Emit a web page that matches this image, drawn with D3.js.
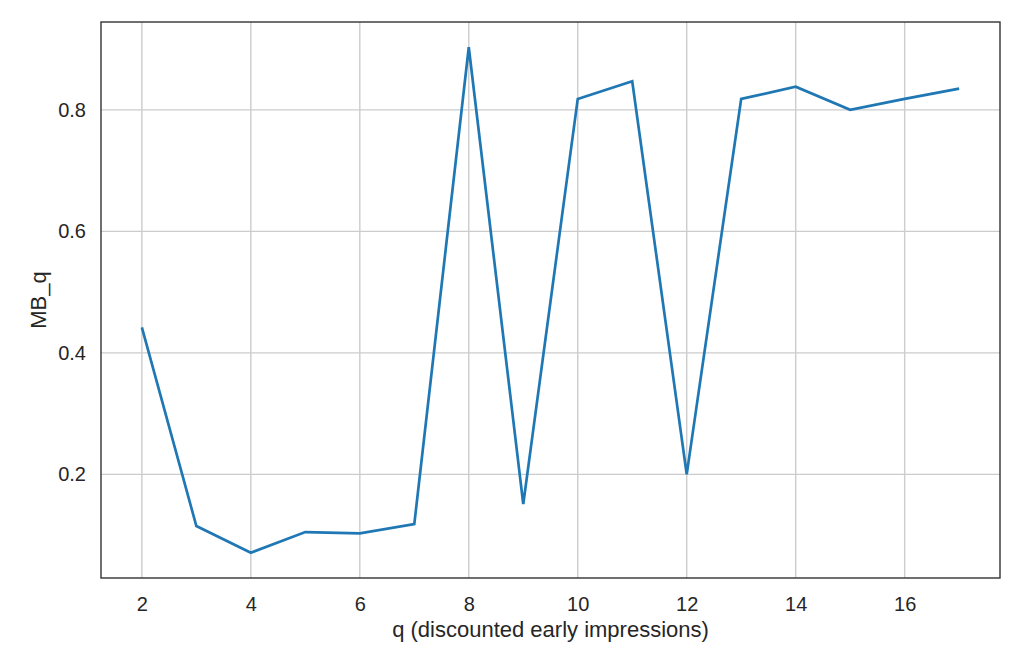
<!DOCTYPE html>
<html><head><meta charset="utf-8">
<script src="https://cdn.jsdelivr.net/npm/d3@7"></script>
<style>body{margin:0;background:#fff;} svg{display:block;font-family:"Liberation Sans",Arial,sans-serif;}</style>
</head><body>
<svg id="c" width="1024" height="672"></svg>
<script>
const qValues = [2,3,4,5,6,7,8,9,10,11,12,13,14,15,16,17];
const mbValues = [0.442,0.115,0.071,0.105,0.103,0.118,0.903,0.151,0.818,0.847,0.200,0.818,0.838,0.800,0.818,0.835];
const xTicks = [2,4,6,8,10,12,14,16];
const yTicks = [0.2,0.4,0.6,0.8];
const xLabel = "q (discounted early impressions)";
const yLabel = "MB_q";

const svg = d3.select("#c");
const L=101,R=1000,T=22,B=578;
const x = d3.scaleLinear().domain([1.25,17.75]).range([L,R]);
const yMin=d3.min(mbValues), yMax=d3.max(mbValues), pad=(yMax-yMin)*0.05;
const y = d3.scaleLinear().domain([yMin-pad,yMax+pad]).range([B,T]);

const g = svg.append("g");
g.selectAll("line.gx").data(xTicks).enter().append("line")
  .attr("x1",d=>x(d)).attr("x2",d=>x(d)).attr("y1",T).attr("y2",B)
  .attr("stroke","#cccccc").attr("stroke-width",1.4);
g.selectAll("line.gy").data(yTicks).enter().append("line")
  .attr("y1",d=>y(d)).attr("y2",d=>y(d)).attr("x1",L).attr("x2",R)
  .attr("stroke","#cccccc").attr("stroke-width",1.4);

const line = d3.line().x((d,i)=>x(qValues[i])).y(d=>y(d));
svg.append("path").datum(mbValues).attr("d",line).attr("fill","none")
  .attr("stroke","#1f77b4").attr("stroke-width",2.7).attr("stroke-linejoin","miter").attr("stroke-linecap","butt");

svg.append("rect").attr("x",L).attr("y",T).attr("width",R-L).attr("height",B-T)
  .attr("fill","none").attr("stroke","#333333").attr("stroke-width",1.4);

const xa = svg.append("g").attr("transform",`translate(0,${B})`)
  .call(d3.axisBottom(x).tickValues(xTicks).tickSize(0).tickPadding(19).tickFormat(d3.format("d")));
xa.select(".domain").remove();
xa.selectAll("text").attr("font-size",20).attr("fill","#262626").attr("font-family","Liberation Sans, Arial, sans-serif");

const ya = svg.append("g").attr("transform",`translate(${L},0)`)
  .call(d3.axisLeft(y).tickValues(yTicks).tickSize(0).tickPadding(15).tickFormat(d3.format(".1f")));
ya.select(".domain").remove();
ya.selectAll("text").attr("font-size",20).attr("fill","#262626").attr("font-family","Liberation Sans, Arial, sans-serif");

svg.append("text").attr("x",(L+R)/2).attr("y",637).attr("text-anchor","middle")
  .attr("font-size",22).attr("fill","#262626").text(xLabel);
svg.append("text").attr("transform",`translate(46,${(T+B)/2}) rotate(-90)`).attr("text-anchor","middle")
  .attr("font-size",22).attr("fill","#262626").text(yLabel);
</script>
</body></html>
